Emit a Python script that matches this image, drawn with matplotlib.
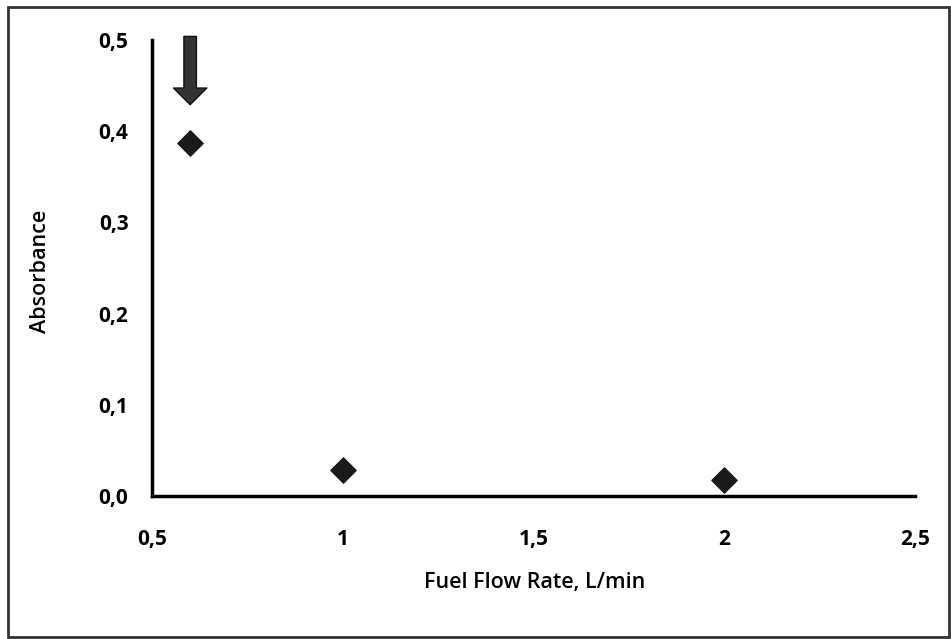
import matplotlib
matplotlib.use('Agg')
import matplotlib.pyplot as plt
from matplotlib.patches import Rectangle
from matplotlib.ticker import FuncFormatter

flow = [0.6, 1.0, 2.0]
absorbance = [0.387, 0.029, 0.017]
x_ticks = [0.5, 1.0, 1.5, 2.0, 2.5]
y_ticks = [0.0, 0.1, 0.2, 0.3, 0.4, 0.5]

plt.rcParams['font.family'] = ['Open Sans', 'DejaVu Sans']


def comma_x(x, pos):
    # 1 and 2 without decimals, like the original
    if abs(x - round(x)) < 1e-9:
        return f'{int(round(x))}'
    return f'{x:.1f}'.replace('.', ',')


def comma_y(y, pos):
    return f'{y:.1f}'.replace('.', ',')


fig = plt.figure(figsize=(9.51, 6.39), dpi=100)
ax = fig.add_axes([152 / 951, 1 - 496 / 639, (915 - 152) / 951, (496 - 40) / 639])

ax.scatter(flow, absorbance, marker='D', s=165, color='#1a1a1a', zorder=3)

# arrow pointing at the first point
ax.annotate('', xy=(0.6, 0.426), xytext=(0.6, 0.507),
            arrowprops=dict(arrowstyle='simple,head_length=1.2,head_width=2.4,tail_width=0.9',
                            fc='#333333', ec='#111111', lw=1),
            annotation_clip=False)

ax.set_xlim(0.5, 2.5)
ax.set_ylim(0, 0.5)
ax.set_xticks(x_ticks)
ax.set_yticks(y_ticks)
ax.xaxis.set_major_formatter(FuncFormatter(comma_x))
ax.yaxis.set_major_formatter(FuncFormatter(comma_y))
ax.tick_params(axis='x', length=0, pad=24, labelsize=15)
ax.tick_params(axis='y', length=0, pad=17, labelsize=15)
for lab in ax.get_xticklabels() + ax.get_yticklabels():
    lab.set_fontweight('bold')

ax.spines['top'].set_visible(False)
ax.spines['right'].set_visible(False)
ax.spines['left'].set_linewidth(2.5)
ax.spines['bottom'].set_linewidth(2.5)

ax.set_xlabel('Fuel Flow Rate, L/min', fontsize=15.5, fontweight='semibold')
ax.set_ylabel('Absorbance', fontsize=15.5, fontweight='semibold')
ax.xaxis.set_label_coords((535 - 152) / 763, -(572 - 496) / 456)
ax.yaxis.set_label_coords(-(152 - 51) / 763, (496 - 271) / 456)

# outer frame of the chart area
fig.patches.append(Rectangle((8 / 951, 2 / 639), 941 / 951, 630 / 639, transform=fig.transFigure,
                             fill=False, ec='#333333', lw=2))

fig.savefig('out.png', dpi=100)
